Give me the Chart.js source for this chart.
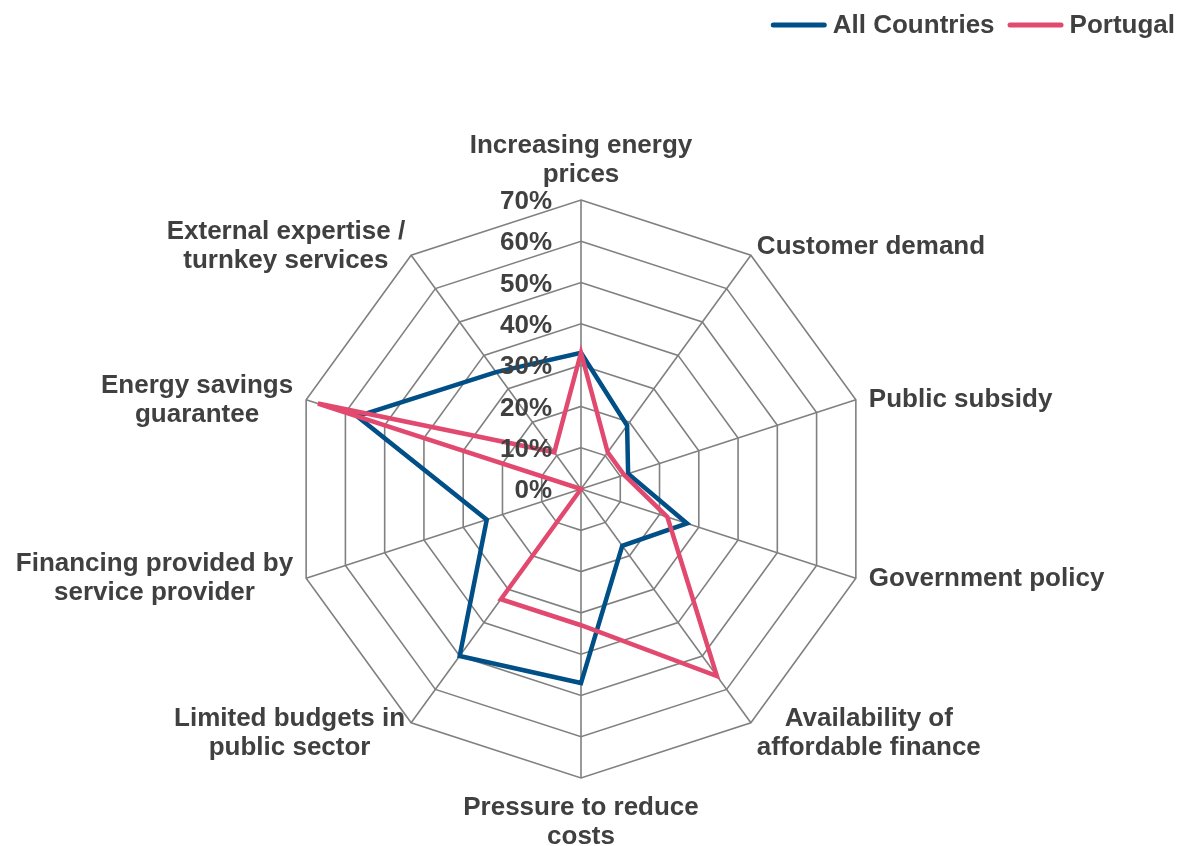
<!DOCTYPE html>
<html>
<head>
<meta charset="utf-8">
<script src="https://cdn.jsdelivr.net/npm/chart.js@4"></script>
<style>
  body { margin: 0; background: #ffffff; }
  canvas { display: block; }
</style>
</head>
<body>
<canvas id="driversChart" width="1184" height="846"></canvas>
<script>
// Category labels (clockwise from the top), multi-line where they wrap
const categories = [
  ["Increasing energy", "prices"],
  "Customer demand",
  "Public subsidy",
  "Government policy",
  ["Availability of", "affordable finance"],
  ["Pressure to reduce", "costs"],
  ["Limited budgets in", "public sector"],
  ["Financing provided by", "service provider"],
  ["Energy savings", "guarantee"],
  ["External expertise /", "turnkey services"],
];

// Share of respondents, in %
const allCountries = [33, 19, 12, 27, 17, 47, 50, 24, 57, 35];
const portugal = [33, 11, 11, 22, 56, 33, 33, 0, 67, 11];

// Radial axis: 0% .. 70% in 10% steps
const axisMax = 70;
const axisStep = 10;

const TEXT_COLOR = "#404040";
const GRID_COLOR = "#808080";
const FONT = "bold 26px 'Liberation Sans', Arial, sans-serif";
const LINE_H = 29;

/* ===== TEXT PLUGIN: tick labels, category labels, legend ===== */
const textPlugin = {
  id: "radarText",
  afterDatasetsDraw(chart) {
    const r = chart.scales.r;
    const ctx = chart.ctx;
    ctx.save();
    ctx.fillStyle = TEXT_COLOR;
    ctx.font = FONT;

    // tick labels, left of the top spoke
    ctx.textAlign = "right";
    ctx.textBaseline = "middle";
    r.ticks.forEach((t) => {
      const y = r.yCenter - r.getDistanceFromCenterForValue(t.value);
      ctx.fillText(t.value + "%", r.xCenter - 29, y + 2);
    });

    // category labels round the outer ring
    ctx.textAlign = "center";
    ctx.textBaseline = "alphabetic";
    chart.data.labels.forEach((lab, i) => {
      const lines = [].concat(lab);
      const p = r.getPointPosition(i, r.drawingArea);
      const hx = Math.cos(p.angle);
      const vy = -Math.sin(p.angle);
      const w = Math.max(...lines.map((l) => ctx.measureText(l).width));
      let cx, firstBase;
      if (Math.abs(hx) < 0.01) {
        cx = p.x;
        firstBase = vy > 0 ? p.y - 18 - LINE_H * (lines.length - 1) : p.y + 37;
      } else {
        const gap = Math.abs(hx) > 0.9 ? 13 : 6;
        cx = hx > 0 ? p.x + gap + w / 2 : p.x - gap - w / 2;
        const mid = p.y + (vy > 0.5 ? -11 : vy < -0.5 ? 8 : -2);
        firstBase = mid - ((lines.length - 1) * LINE_H) / 2 + 9.5;
      }
      lines.forEach((l, k) => ctx.fillText(l, cx, firstBase + k * LINE_H));
    });

    // legend, top right
    ctx.textAlign = "left";
    const sample = 56;
    const items = chart.data.datasets.map((ds) => ({
      label: ds.label,
      color: ds.borderColor,
      w: ctx.measureText(ds.label).width,
    }));
    const total = items.reduce((s, it) => s + sample + 6 + it.w, 0) + 13 * (items.length - 1);
    let x = chart.width - 9 - total;
    items.forEach((it) => {
      ctx.strokeStyle = it.color;
      ctx.lineWidth = 5;
      ctx.lineCap = "round";
      ctx.beginPath();
      ctx.moveTo(x + 2.5, 25);
      ctx.lineTo(x + sample - 2.5, 25);
      ctx.stroke();
      ctx.fillText(it.label, x + sample + 6, 33);
      x += sample + 6 + it.w + 13;
    });

    ctx.restore();
  },
};

/* ===== CHART INIT ===== */
const ctx = document.getElementById("driversChart").getContext("2d");

const chart = new Chart(ctx, {
  type: "radar",
  data: {
    labels: categories,
    datasets: [
      {
        label: "All Countries",
        data: allCountries,
        borderColor: "#004f86",
        backgroundColor: "transparent",
        borderWidth: 4.5,
        fill: false,
        order: 1,
      },
      {
        label: "Portugal",
        data: portugal,
        borderColor: "#e2496f",
        backgroundColor: "transparent",
        borderWidth: 4.5,
        fill: false,
        order: 0,
      },
    ],
  },
  options: {
    responsive: false,
    devicePixelRatio: 1,
    animation: false,
    layout: {
      padding: { left: 292, right: 314, top: 200, bottom: 68 },
    },
    elements: {
      point: { radius: 0, hoverRadius: 0 },
      line: { tension: 0, borderJoinStyle: "miter" },
    },
    scales: {
      r: {
        min: 0,
        max: axisMax,
        ticks: { display: false, stepSize: axisStep },
        pointLabels: { display: false },
        grid: { color: GRID_COLOR, lineWidth: 1.6 },
        angleLines: { color: GRID_COLOR, lineWidth: 1.6 },
      },
    },
    plugins: {
      legend: { display: false },
      tooltip: { enabled: false },
    },
  },
  plugins: [textPlugin],
});
</script>
</body>
</html>
